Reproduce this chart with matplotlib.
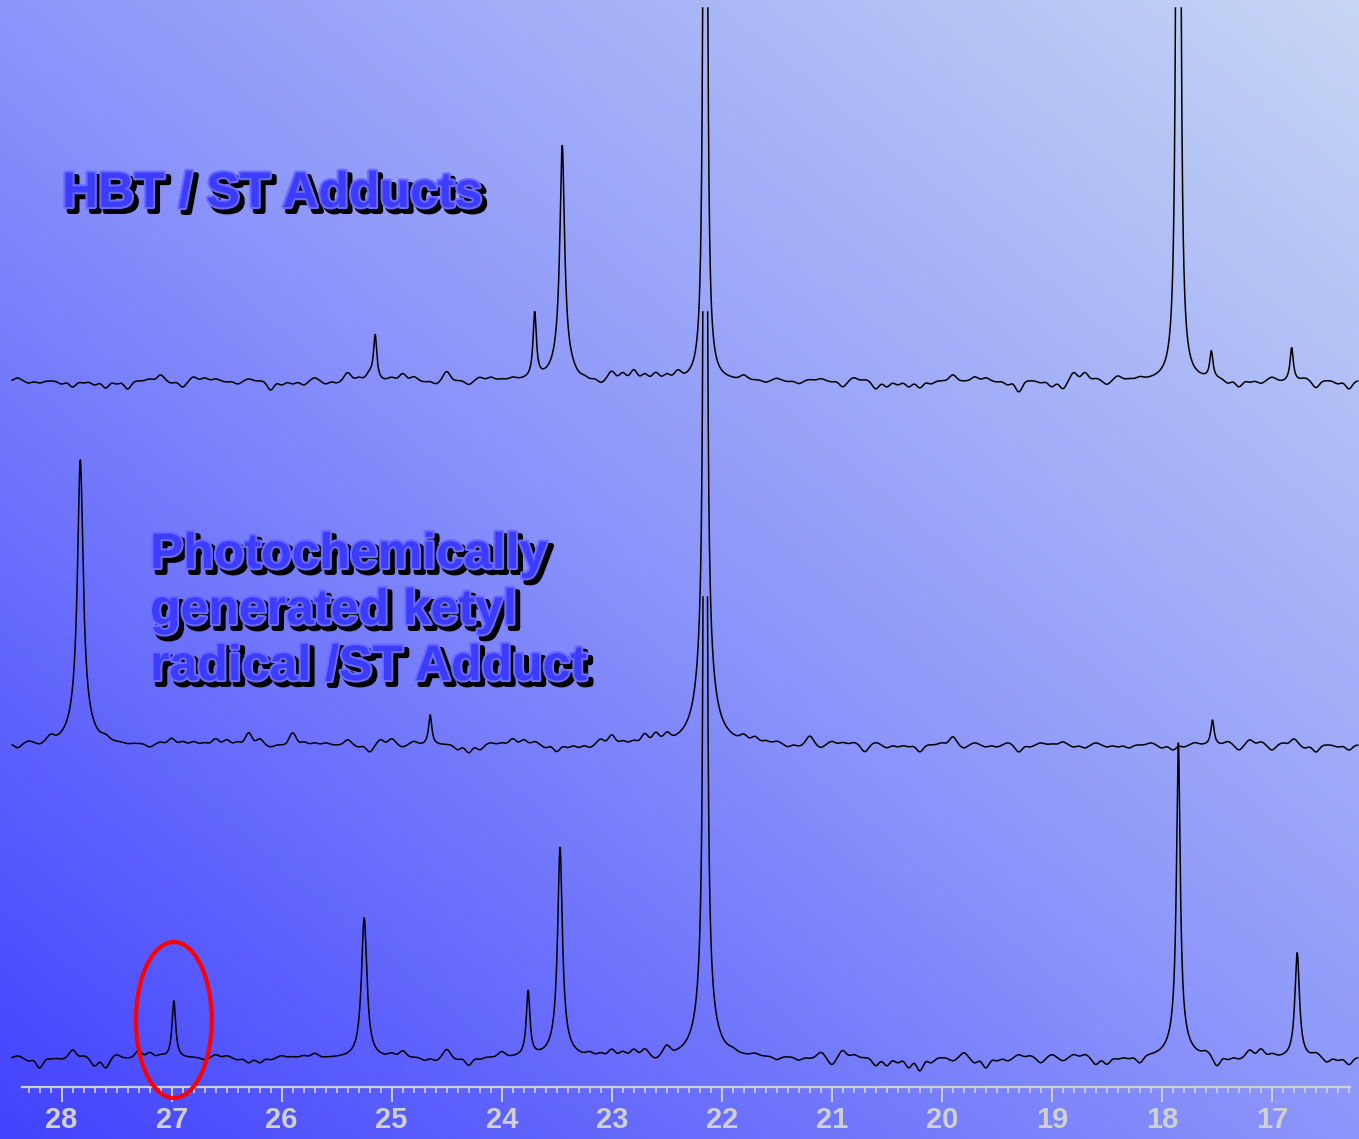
import numpy as np
import matplotlib
matplotlib.use('Agg')
import matplotlib.pyplot as plt
import matplotlib.patheffects as pe
from matplotlib.patches import Ellipse

# x axis (chemical shift, ppm)
ppm_ticks = [28, 27, 26, 25, 24, 23, 22, 21, 20, 19, 18, 17]
tick_labels = [str(t) for t in ppm_ticks]

# peaks: centre (ppm), height, half width (ppm)
top_centres = [25.15, 23.70, 23.45, 23.45, 22.15, 17.85, 17.55, 16.82]
top_heights = [45, 65, 210, 25, 3000, 3000, 27, 33]
top_widths = [0.018, 0.018, 0.025, 0.08, 0.009, 0.010, 0.018, 0.018]

mid_centres = [27.83, 27.83, 24.65, 22.15, 22.15, 17.54]
mid_heights = [250, 35, 30, 3000, 90, 25]
mid_widths = [0.03, 0.08, 0.018, 0.008, 0.08, 0.018]

bot_centres = [26.98, 25.25, 23.76, 23.47, 23.47, 22.15, 22.15, 17.85, 17.85, 16.77]
bot_heights = [57, 140, 65, 190, 20, 3000, 70, 290, 25, 105]
bot_widths = [0.02, 0.03, 0.02, 0.025, 0.07, 0.008, 0.075, 0.02, 0.08, 0.025]

# baseline wiggle read every 0.1 ppm, 28.4 -> 16.3
noise_ppm = np.round(np.arange(28.4, 16.25, -0.1), 1)
top_noise = [3, -2, -2, 0, -3, -6, -2, -4, -7, -3,
             -8, 0, 2, 6, -2, -6, 4, 3, 2, -1,
             -3, 2, 0, -9, -4, -3, -4, 3, -3, -2,
             8, 3, 6, 0, 3, 7, 4, -1, -3, 9,
             0, -4, 3, 3, 1, 2, 0, 0, 0, 0,
             0, -2, -2, -4, 8, 7, 10, 6, 7, 5,
             7, 0, 0, 0, 0, 0, 4, 0, -2, 2,
             -1, -3, 1, 2, -1, -6, 3, 1, -8, -6,
             -4, -6, -7, -3, 0, 6, 0, 4, 3, -1,
             -4, -11, 0, -2, -6, -8, 8, 8, 2, -4,
             4, 1, 2, 0, 0, 0, 0, 0, 0, 0,
             -4, -7, -2, -3, 3, -1, 0, 2, -7, 0,
             -3, -8]
mid_noise = [-4, 2, -2, 5, 0, 0, 0, 0, 3, 0,
             -1, 0, -3, 2, 6, 3, 3, 2, 6, 5,
             3, 12, 6, -2, 0, 12, 3, 2, 2, 0,
             5, -2, -7, 5, 6, -2, 3, 0, 0, 0,
             -5, -8, -5, 2, 2, 6, 5, 3, -3, -7,
             -3, -3, -3, 5, 9, 3, 3, 9, 9, 7,
             0, 0, 0, 0, 0, 0, 5, 5, 2, 2,
             -3, -2, 8, -3, 3, 2, 2, -7, 2, -3,
             -2, -2, -7, 0, 2, 8, -3, 2, -2, -2,
             2, -7, -2, 2, 1, 3, -2, -3, 2, -2,
             -2, -3, 0, 2, -3, -5, -2, 2, 0, 0,
             3, -5, 5, 3, -5, 2, 6, -3, -7, 0,
             -2, -5]
bot_noise = [2, -3, -10, -1, -1, 8, 2, -8, -10, 3,
             0, 7, 5, 2, 0, 0, 0, -2, 3, 2,
             -2, -5, -5, -2, 2, 1, 2, 4, 0, 0,
             0, 0, 0, 0, 3, 6, 0, -3, -3, 8,
             -2, -8, -2, 0, 5, 0, 0, 0, 0, 0,
             0, 0, 3, 3, 7, 5, 7, 7, -3, 8,
             0, 0, 0, 0, 0, 2, 0, 2, 0, -3,
             0, -3, -1, 5, -7, 7, 3, 0, -8, -8,
             -5, -10, -13, -5, 0, -3, 5, -5, -10, -3,
             -3, 3, 2, -5, 3, -3, 3, 3, -7, -7,
             -2, -2, -7, 0, 0, 0, 0, 0, 3, -10,
             -3, -2, 7, 8, 3, 0, 0, 0, 3, -5,
             -3, -7]

trace_offsets = [706, 342, 29]
trace_clips = [373, 433, 461]


def spectrum(x, centres, heights, widths, noise):
    y = np.zeros_like(x)
    for c, h, w in zip(centres, heights, widths):
        y += h * w**2 / (w**2 + (x - c)**2)
    for c, a in zip(noise_ppm, noise):
        y += a * np.exp(-0.5 * ((x - c) / 0.03)**2)
    return y


fig = plt.figure(figsize=(13.59, 11.39), dpi=100)

# gradient background
bg = fig.add_axes([0, 0, 1, 1], zorder=-1)
u, v = np.meshgrid(np.linspace(0, 1, 300), np.linspace(0, 1, 250))
t = (u + v) / 2
stops = [0, 0.5, 1]
cols = np.array([[66, 66, 255], [140, 150, 250], [198, 214, 244]]) / 255
img = np.dstack([np.interp(t, stops, cols[:, k]) for k in range(3)])
bg.imshow(img, origin='lower', extent=[0, 1, 0, 1], aspect='auto')
bg.axis('off')

ax = fig.add_axes([22 / 1359, 1 - 1087 / 1139, 1328 / 1359, 1087 / 1139])
ax.patch.set_alpha(0)
ax.set_xlim(28.36, 16.29)
ax.set_ylim(0, 1087)

x = np.arange(28.45, 16.22, -0.0005)
traces = [(top_centres, top_heights, top_widths, top_noise),
          (mid_centres, mid_heights, mid_widths, mid_noise),
          (bot_centres, bot_heights, bot_widths, bot_noise)]
for (c, h, w, n), off, clip in zip(traces, trace_offsets, trace_clips):
    y = spectrum(x, c, h, w, n)
    # cut the tallest peaks flat at the plotting limit, leaving their tops open
    over = y > clip
    gap = over & np.roll(over, 1) & np.roll(over, -1)
    y = np.minimum(y, clip)
    y[gap] = np.nan
    ax.plot(x, y + off, color='black', lw=1.1, clip_on=False)

# axis styling
for s in ['top', 'left', 'right']:
    ax.spines[s].set_visible(False)
ax.spines['bottom'].set_color('#d0d0d0')
ax.spines['bottom'].set_linewidth(1.6)
ax.set_yticks([])
ax.set_xticks(ppm_ticks)
ax.set_xticklabels(tick_labels)
ax.set_xticks(np.arange(16.3, 28.36, 0.1), minor=True)
ax.tick_params(axis='x', which='major', length=11, width=1.4, color='#d0d0d0',
               pad=3, labelsize=21, labelcolor='#d0d0d0')
ax.tick_params(axis='x', which='minor', length=4.5, width=1.2, color='#d0d0d0')
for lab in ax.get_xticklabels():
    lab.set_fontfamily(['Liberation Sans', 'DejaVu Sans'])
    lab.set_fontweight('bold')

# shadowed titles
effects = [pe.Stroke(offset=(3, -3), linewidth=4, foreground='black'),
           pe.SimplePatchShadow(offset=(3, -3), shadow_rgbFace='black', alpha=1.0),
           pe.Stroke(linewidth=3, foreground='#6a6aff'),
           pe.Normal()]
title_font = dict(family=['Liberation Sans', 'DejaVu Sans'], fontweight='bold',
                  fontsize=36, color='#3c3cff', va='baseline', ha='left')
fig.text(62 / 1359, 1 - 207 / 1139, 'HBT / ST Adducts', path_effects=effects, **title_font)
for txt, yb in zip(['Photochemically', 'generated ketyl', 'radical /ST Adduct'],
                   [568, 624, 680]):
    fig.text(150 / 1359, 1 - yb / 1139, txt, path_effects=effects, **title_font)

# red ring round the 27 ppm peak
ax.add_patch(Ellipse((26.98, 67), 0.69, 156, fill=False, edgecolor='red', lw=3,
                     clip_on=False, zorder=5))

plt.savefig('out.png', dpi=100)
